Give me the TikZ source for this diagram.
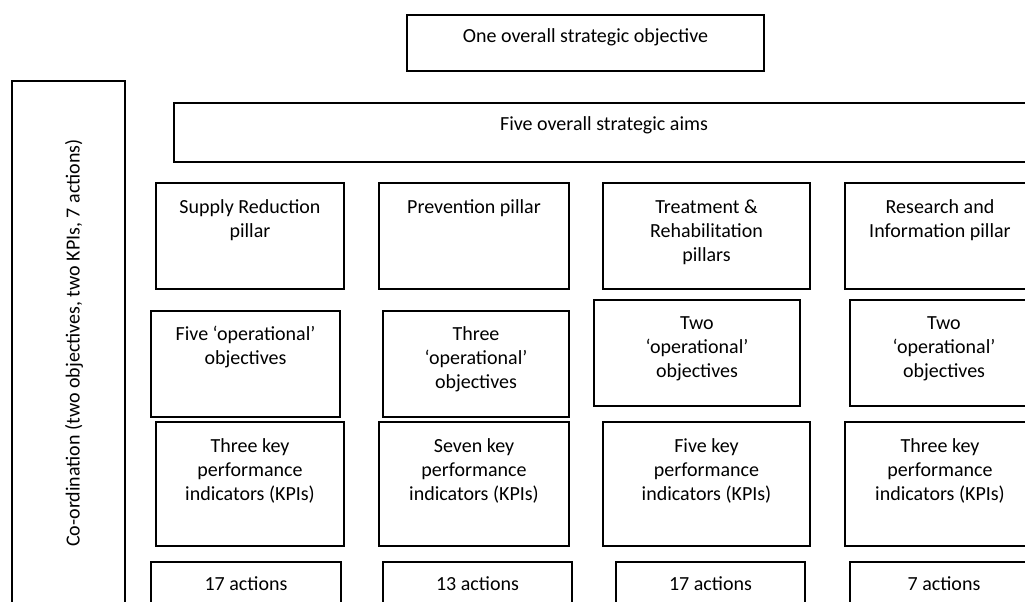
\documentclass[tikz,border=0pt]{standalone}
\usepackage{fontspec}
\setmainfont{Carlito}
\tikzset{
  box/.style={draw=black, line width=2pt, fill=white, inner sep=0pt, outer sep=0pt, anchor=north west},
  txt/.style={font=\fontsize{20}{24}\selectfont, align=center, inner sep=0pt, outer sep=0pt, anchor=north}
}
\newcommand\bx[7]{%
  \node[box, minimum width={(#4-#2)*1pt}, minimum height={(#5-#3)*1pt}] (#1) at (#2,#3) {};
  \node[txt] (#1t) at ({(#2+#4)/2},{#6-16.8}) {\strut #7};
}
\begin{document}
\begin{tikzpicture}[x=1pt,y=-1pt]
\useasboundingbox (0,0) rectangle (1025,602);
\clip (0,0) rectangle (1025,602);
\fill[white] (0,0) rectangle (1025,602);
% top
\bx{obj}{407}{15}{764}{71}{43}{One overall strategic objective}
% coordination
\node[box, minimum width=113pt, minimum height=560pt] (coord) at (12,81) {};
\node[font=\fontsize{20}{24}\selectfont, inner sep=0pt, rotate=90] (coordt) at (74,343) {Co-ordination (two objectives, two KPIs, 7 actions)};
% aims
\bx{aims}{174}{103}{1034}{162}{130}{Five overall strategic aims}
% pillars
\bx{p1}{156}{183}{344}{289}{213}{Supply Reduction\\pillar}
\bx{p2}{379}{183}{569}{289}{213}{Prevention pillar}
\bx{p3}{603}{183}{810}{289}{213}{Treatment \&\\Rehabilitation\\pillars}
\bx{p4}{845}{183}{1035}{289}{213}{Research and\\Information pillar}
% operational objectives
\bx{o1}{151}{311}{340}{417}{340}{Five ‘operational’\\objectives}
\bx{o2}{383}{311}{569}{417}{340}{Three\\‘operational’\\objectives}
\bx{o3}{594}{300}{800}{406}{329}{Two\\‘operational’\\objectives}
\bx{o4}{850}{300}{1038}{406}{329}{Two\\‘operational’\\objectives}
% KPIs
\bx{k1}{156}{422}{344}{546}{452}{Three key\\performance\\indicators (KPIs)}
\bx{k2}{379}{422}{569}{546}{452}{Seven key\\performance\\indicators (KPIs)}
\bx{k3}{603}{422}{810}{546}{452}{Five key\\performance\\indicators (KPIs)}
\bx{k4}{845}{422}{1035}{546}{452}{Three key\\performance\\indicators (KPIs)}
% actions
\bx{a1}{151}{562}{341}{640}{590}{17 actions}
\bx{a2}{383}{562}{572}{640}{590}{13 actions}
\bx{a3}{616}{562}{805}{640}{590}{17 actions}
\bx{a4}{850}{562}{1038}{640}{590}{7 actions}
\end{tikzpicture}
\end{document}
